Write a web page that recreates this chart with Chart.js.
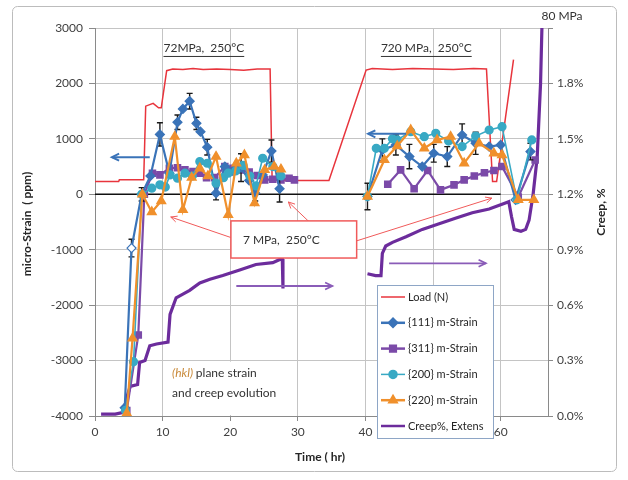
<!DOCTYPE html>
<html>
<head>
<meta charset="utf-8">
<script src="https://cdn.jsdelivr.net/npm/chart.js@4.4.1/dist/chart.umd.min.js"></script>
<style>
  html, body { margin: 0; padding: 0; background: #fff; }
  #wrap { width: 628px; height: 480px; position: relative; }
</style>
</head>
<body>
<div id="wrap"><canvas id="chart" width="628" height="480"></canvas></div>
<script>
const FONT = "Lato, 'Open Sans', sans-serif";

// ---- data (time in hr, strain in ppm, creep in %) ----
const loadTime = [0, 3.5, 3.6, 7.2, 7.5, 8.6, 9.4, 9.8, 10.6, 11.5, 13, 14.5, 16, 18, 20, 22, 24, 25.9, 26.2, 30, 34.6, 40.1, 41, 44, 47, 50, 53, 56, 57.9, 58.8, 59.4, 61.9];
const loadVal  = [230, 230, 260, 260, 1590, 1640, 1560, 1560, 2230, 2260, 2250, 2270, 2250, 2260, 2250, 2240, 2260, 2260, 250, 250, 250, 2240, 2270, 2250, 2270, 2260, 2250, 2270, 2260, 230, 230, 2430];

const zeroTime = [0, 60];
const zeroVal  = [0, 0];

const t111 = [4.4, 5.4, 6.9, 8.2, 9.6, 11.0, 12.2, 13.0, 14.0, 15.0, 15.6, 16.6, 17.9, 19.2, 20.4, 21.6, 22.8, 23.7, 24.8, 26.1, 27.3, 34,
              40.3, 42.5, 44.5, 46.5, 48.4, 50.1, 52.1, 54.3, 56.3, 58.3, 60.0, 62.2, 64.4];
const s111 = [-3850, -970, 0, 330, 1080, 380, 1300, 1540, 1680, 1280, 1130, 850, 20, 500, 420, 480, 250, 20, 350, 780, 100, null,
              -40, 800, 890, 680, 500, 740, 680, 1070, 920, 860, 890, -100, 770];
const e111 = [0, 160, 120, 0, 210, 0, 130, 0, 140, 110, 0, 140, 120, 0, 0, 250, 0, 140, 0, 200, 240, 0,
              240, 200, 180, 220, 0, 160, 180, 200, 200, 0, 0, 0, 150];

const t311 = [4.7, 6.4, 7.3, 8.5, 9.6, 11.0, 12.2, 13.3, 14.5, 15.5, 16.5, 17.7, 19.2, 20.4, 21.6, 22.8, 24.0, 25.1, 26.3, 27.5, 28.7, 29.5, 34,
              43.3, 45.2, 47.2, 49.2, 51.1, 53.1, 54.6, 56.1, 57.6, 59.0, 60.2, 62.6, 65.1];
const s311 = [-3900, -2540, 0, 380, 350, 470, 480, 440, 410, 380, 300, 300, 500, 470, 440, 400, 340, 260, 270, 260, 290, 260, null,
              180, 440, 100, 430, 80, 170, 260, 330, 390, 430, 500, -50, 620];

const t200 = [4.5, 5.7, 6.9, 8.4, 9.6, 10.4, 11.1, 12.2, 13.3, 14.4, 15.5, 16.6, 17.9, 19.0, 19.7, 20.8, 21.9, 22.9, 23.8, 24.8, 26.3, 27.5, 34,
              40.3, 41.6, 42.8, 44.0, 44.7, 46.7, 48.7, 50.4, 52.3, 54.3, 56.3, 58.3, 60.2, 62.4, 64.6];
const s200 = [-3900, -3020, 0, 110, 170, 130, 350, 290, 380, 330, 590, 560, 200, 300, 380, 420, 520, 330, 150, 650, 500, 330, null,
              -40, 830, 830, 1000, 980, 1130, 1040, 1100, 960, 860, 1050, 1160, 1220, -100, 980];

const t220 = [4.7, 5.55, 7.0, 8.4, 9.8, 11.8, 13.0, 14.3, 15.5, 16.7, 17.9, 19.7, 20.9, 22.1, 23.6, 25.1, 26.5, 27.5, 34,
              40.3, 42.8, 44.7, 46.7, 48.7, 50.6, 52.6, 54.6, 56.8, 59.0, 60.2, 62.6, 64.9];
const s220 = [-3950, -2600, 0, -320, -120, 1040, -280, 300, 470, 330, 680, -370, 560, 710, -160, 440, 500, 450, null,
              -40, 620, 870, 1160, 830, 980, 1040, 560, 920, 740, 710, -100, -100];

const creepTime = [0.9, 2, 3, 4.2, 4.4, 4.7, 5.2, 6.3, 6.6, 7.4, 8.1, 9.1, 10.8, 11.1, 12.0, 13.0, 14.0, 15.5, 17.0, 18.9, 21.4, 23.8, 26.3, 27.5, 27.7, 27.8, 34,
                   40.3, 41.5, 42.3, 42.5, 43.0, 44.0, 46.0, 48.4, 50.9, 53.3, 55.8, 58.3, 60.5, 61.2, 61.6, 62.0, 63.0, 63.7, 64.2, 64.8, 65.4, 65.9, 66.1];
const creepVal  = [0.01, 0.01, 0.01, 0.02, 0.05, 0.10, 0.16, 0.17, 0.29, 0.30, 0.38, 0.39, 0.40, 0.55, 0.64, 0.66, 0.68, 0.72, 0.74, 0.76, 0.79, 0.82, 0.83, 0.85, 0.85, 0.69, null,
                   0.77, 0.76, 0.76, 0.88, 0.92, 0.94, 0.97, 1.01, 1.04, 1.07, 1.10, 1.12, 1.15, 1.16, 1.08, 1.01, 1.00, 1.01, 1.06, 1.20, 1.40, 1.80, 2.10];

const hollow111 = [1, 33];

const C = {
  load: '#e8343c', b111: '#3a73b8', p311: '#7b4aa8', t200: '#38a9c4', o220: '#f0902c', creep: '#6c2c9c'
};

function xy(ts, vs) { return ts.map((t, i) => ({ x: t, y: vs[i] })); }

const IDX111 = 2;

// error bars under the {111} line
const errorBars = {
  id: 'errorBars',
  beforeDatasetDraw(chart, args) {
    if (args.index !== IDX111) return;
    const ctx = chart.ctx, ys = chart.scales.y;
    const meta = chart.getDatasetMeta(IDX111);
    ctx.save();
    ctx.strokeStyle = '#1a1a1a';
    ctx.lineWidth = 1.4;
    meta.data.forEach((pt, i) => {
      const e = e111[i];
      if (!e || s111[i] === null) return;
      const top = ys.getPixelForValue(s111[i] + e);
      const bot = ys.getPixelForValue(s111[i] - e);
      ctx.beginPath();
      ctx.moveTo(pt.x, top); ctx.lineTo(pt.x, bot);
      ctx.moveTo(pt.x - 3, top); ctx.lineTo(pt.x + 3, top);
      ctx.moveTo(pt.x - 3, bot); ctx.lineTo(pt.x + 3, bot);
      ctx.stroke();
    });
    ctx.restore();
  }
};

function arrow(ctx, x1, y1, x2, y2, head) {
  ctx.beginPath(); ctx.moveTo(x1, y1); ctx.lineTo(x2, y2); ctx.stroke();
  const a = Math.atan2(y2 - y1, x2 - x1);
  ctx.beginPath();
  ctx.moveTo(x2 - head * Math.cos(a - 0.45), y2 - head * Math.sin(a - 0.45));
  ctx.lineTo(x2, y2);
  ctx.lineTo(x2 - head * Math.cos(a + 0.45), y2 - head * Math.sin(a + 0.45));
  ctx.stroke();
}

// frame, axis titles, notes, arrows, legend
const decor = {
  id: 'decor',
  beforeDraw(chart) {
    const ctx = chart.ctx;
    ctx.save();
    ctx.strokeStyle = '#bcbcbc';
    ctx.lineWidth = 1;
    ctx.beginPath();
    ctx.roundRect(12.5, 6.5, 604, 465, 5);
    ctx.stroke();
    ctx.restore();
  },
  beforeDatasetsDraw(chart) {
    const ctx = chart.ctx, x = chart.scales.x, y = chart.scales.y;
    // white box behind the (hkl) note
    ctx.save();
    ctx.fillStyle = '#fff';
    const bx = x.getPixelForValue(10.7), by = y.getPixelForValue(-3020);
    ctx.fillRect(bx, by, x.getPixelForValue(29.8) - bx, y.getPixelForValue(-4000) - by - 1);
    ctx.textBaseline = 'middle';
    ctx.fillStyle = '#c98a3a';
    ctx.font = "italic 12px " + FONT;
    const tx = x.getPixelForValue(11.4);
    ctx.fillText('(hkl)', tx, y.getPixelForValue(-3220));
    const w = ctx.measureText('(hkl) ').width;
    ctx.fillStyle = '#333';
    ctx.font = "12px " + FONT;
    ctx.fillText('plane strain', tx + w, y.getPixelForValue(-3220));
    ctx.fillText('and creep evolution', tx, y.getPixelForValue(-3580));
    ctx.restore();
  },
  afterDraw(chart) {
    const ctx = chart.ctx, x = chart.scales.x, y = chart.scales.y;
    const px = t => x.getPixelForValue(t), py = v => y.getPixelForValue(v);
    ctx.save();

    // axis titles
    ctx.fillStyle = '#262626';
    ctx.font = "bold 12px " + FONT;
    ctx.textAlign = 'center';
    ctx.textBaseline = 'middle';
    ctx.fillText('Time ( hr)', 320, 457);
    ctx.save(); ctx.translate(27, 224); ctx.rotate(-Math.PI / 2);
    ctx.fillText('micro-Strain  ( ppm)', 0, 0); ctx.restore();
    ctx.save(); ctx.translate(601, 212); ctx.rotate(-Math.PI / 2);
    ctx.fillText('Creep, %', 0, 0); ctx.restore();

    // stage labels
    ctx.font = "12px " + FONT;
    ctx.fillStyle = '#333';
    const stage = (txt, t, v) => {
      const cx = px(t), cy = py(v);
      ctx.textAlign = 'center';
      ctx.fillText(txt, cx, cy);
      const w = ctx.measureText(txt).width;
      ctx.strokeStyle = '#333'; ctx.lineWidth = 1;
      ctx.beginPath(); ctx.moveTo(cx - w / 2, cy + 8.5); ctx.lineTo(cx + w / 2, cy + 8.5); ctx.stroke();
    };
    stage('72MPa,  250\u00B0C', 16.1, 2640);
    stage('720 MPa,  250\u00B0C', 49.0, 2640);
    ctx.textAlign = 'center';
    ctx.fillText('80 MPa', 562, 16);

    // left-pointing blue arrows (strain -> left axis)
    ctx.strokeStyle = C.b111; ctx.lineWidth = 2;
    arrow(ctx, px(8.1), py(670), px(2.5), py(670), 8);
    arrow(ctx, px(46.0), py(1090), px(40.4), py(1090), 8);
    // right-pointing purple arrows (creep -> right axis)
    ctx.strokeStyle = '#8a5cb8'; ctx.lineWidth = 1.8;
    arrow(ctx, px(20.9), py(-1655), px(35.1), py(-1655), 8);
    arrow(ctx, px(43.5), py(-1245), px(57.8), py(-1245), 8);

    // 7 MPa callout
    ctx.strokeStyle = '#f05a5a'; ctx.lineWidth = 1;
    arrow(ctx, px(20.1), py(-780), px(11.2), py(-410), 7);
    arrow(ctx, px(31.7), py(-500), px(28.6), py(-139), 7);
    arrow(ctx, px(38.7), py(-840), px(58.7), py(-69), 7);
    const cx0 = px(20.1), cy0 = py(-480), cx1 = px(38.7), cy1 = py(-1150);
    ctx.fillStyle = '#fff';
    ctx.fillRect(cx0, cy0, cx1 - cx0, cy1 - cy0);
    ctx.strokeStyle = '#f05a5a'; ctx.lineWidth = 1.5;
    ctx.strokeRect(cx0, cy0, cx1 - cx0, cy1 - cy0);
    ctx.fillStyle = '#333';
    ctx.textAlign = 'left';
    ctx.fillText('7 MPa,  250\u00B0C', cx0 + 12, (cy0 + cy1) / 2 + 1);

    // legend
    const lx = 377.5, ly = 285.5, lw = 116, lh = 153;
    ctx.fillStyle = '#fff';
    ctx.fillRect(lx, ly, lw, lh);
    ctx.strokeStyle = '#8ea6c6'; ctx.lineWidth = 1;
    ctx.strokeRect(lx, ly, lw, lh);
    const items = [
      ['Load (N)', C.load, false, 1.5],
      ['{111} m-Strain', C.b111, 'rectRot', 2.5],
      ['{311} m-Strain', C.p311, 'rect', 2.5],
      ['{200} m-Strain', C.t200, 'circle', 1.5],
      ['{220} m-Strain', C.o220, 'triangle', 2.5],
      ['Creep%, Extens', C.creep, false, 2.5]
    ];
    ctx.font = "11px " + FONT;
    ctx.textBaseline = 'middle';
    items.forEach((it, i) => {
      const yy = 297 + i * 25.8;
      ctx.strokeStyle = it[1]; ctx.lineWidth = it[3];
      ctx.beginPath(); ctx.moveTo(381, yy); ctx.lineTo(405, yy); ctx.stroke();
      if (it[2]) {
        ctx.fillStyle = it[1];
        Chart.helpers.drawPoint(ctx, { pointStyle: it[2], radius: 4, rotation: 0, borderWidth: 1 }, 393, yy);
      }
      ctx.fillStyle = '#262626';
      ctx.fillText(it[0], 408, yy);
    });
    ctx.restore();
  }
};

const tickFont = { family: FONT, size: 12 };

new Chart(document.getElementById('chart'), {
  type: 'line',
  data: {
    datasets: [
      { label: 'zero', data: xy(zeroTime, zeroVal), borderColor: '#111', borderWidth: 1.5, pointRadius: 0, order: 8, yAxisID: 'y' },
      { label: 'Load (N)', data: xy(loadTime, loadVal), borderColor: C.load, borderWidth: 1.5, pointRadius: 0, order: 7, yAxisID: 'y' },
      { label: '{111} m-Strain', data: xy(t111, s111), borderColor: C.b111, borderWidth: 2.2,
        pointStyle: 'rectRot', pointRadius: 4.5, pointBorderColor: C.b111, pointBorderWidth: 1.2,
        pointBackgroundColor: c => hollow111.includes(c.dataIndex) ? '#fff' : C.b111, order: 4, yAxisID: 'y' },
      { label: '{311} m-Strain', data: xy(t311, s311), borderColor: C.p311, borderWidth: 2.2,
        pointStyle: 'rect', pointRadius: 3.8, pointBackgroundColor: C.p311, pointBorderColor: C.p311, order: 5, yAxisID: 'y' },
      { label: '{200} m-Strain', data: xy(t200, s200), borderColor: C.t200, borderWidth: 1.6,
        pointStyle: 'circle', pointRadius: 3.8, pointBackgroundColor: C.t200, pointBorderColor: C.t200, order: 3, yAxisID: 'y' },
      { label: '{220} m-Strain', data: xy(t220, s220), borderColor: C.o220, borderWidth: 2.2,
        pointStyle: 'triangle', pointRadius: 4.2, pointBackgroundColor: C.o220, pointBorderColor: C.o220, order: 2, yAxisID: 'y' },
      { label: 'Creep%, Extens', data: xy(creepTime, creepVal), borderColor: C.creep, borderWidth: 3.2,
        pointRadius: 0, order: 6, yAxisID: 'y2' }
    ]
  },
  options: {
    responsive: false,
    animation: false,
    devicePixelRatio: 1,
    spanGaps: false,
    layout: { padding: { top: 28, left: 0, right: 0, bottom: 0 } },
    plugins: { legend: { display: false }, tooltip: { enabled: false } },
    scales: {
      x: {
        type: 'linear', min: 0, max: 67,
        ticks: { stepSize: 10, includeBounds: false, font: tickFont, color: '#404040', padding: 4, maxRotation: 0,
                 callback: v => String(v) },
        grid: { color: '#c4c4c4', tickLength: 5, tickColor: '#8a8a8a' },
        border: { color: '#8a8a8a' },
        afterFit(s) { s.height = 64; }
      },
      y: {
        min: -4000, max: 3000,
        ticks: { stepSize: 1000, font: tickFont, color: '#404040', padding: 6, callback: v => String(v) },
        grid: { color: '#c4c4c4', tickLength: 6, tickColor: '#8a8a8a' },
        border: { color: '#8a8a8a' },
        afterFit(s) { s.width = 95; }
      },
      y2: {
        position: 'right', min: 0, max: 2.1,
        ticks: { stepSize: 0.3, font: tickFont, color: '#404040', padding: 4,
                 callback: v => v > 2.0 ? '' : v.toFixed(1) + '%' },
        grid: { drawOnChartArea: false, tickLength: 5, tickColor: '#8a8a8a' },
        border: { color: '#8a8a8a' },
        afterFit(s) { s.width = 80; }
      }
    }
  },
  plugins: [errorBars, decor]
});
</script>
</body>
</html>
